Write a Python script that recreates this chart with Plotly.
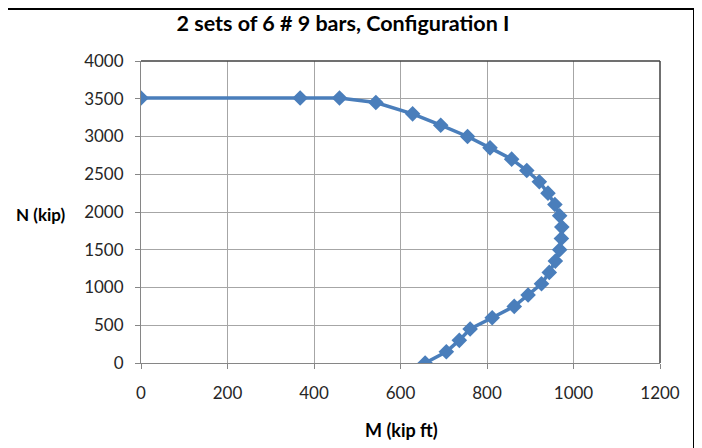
import plotly.graph_objs as go

# interaction diagram points
moment = [0, 368, 459, 543, 628, 693, 755, 807, 857, 892, 921, 941, 957, 968, 973,
          972, 968, 958, 944, 926, 895, 863, 812, 761, 736, 706, 657]
axial = [3510, 3510, 3510, 3450, 3300, 3150, 3000, 2850, 2700, 2550, 2400, 2250, 2100, 1950, 1800,
         1650, 1500, 1350, 1200, 1050, 900, 750, 600, 450, 300, 150, 0]

x_ticks = [0, 200, 400, 600, 800, 1000, 1200]
y_ticks = [0, 500, 1000, 1500, 2000, 2500, 3000, 3500, 4000]

FONT = 'Lato, Open Sans, sans-serif'
BLUE = '#4A7EBB'
GRID = '#A6A6A6'

# page body has an 8px margin, so the figure is drawn 8px in from the window edge
OFF = 8
W, H = 702 - OFF, 448 - OFF
L, T = 141 - OFF, 61 - OFF
R = W - (660 - OFF)
B = H - (363 - OFF)
pw, ph = W - L - R, H - T - B


def px_x(px):
    # screen pixel -> paper coordinate
    return (px - OFF - L) / pw


def px_y(py):
    return (H - B - (py - OFF)) / ph


trace = go.Scatter(
    x=moment,
    y=axial,
    mode='lines+markers',
    line=dict(color=BLUE, width=3.5),
    marker=dict(symbol='diamond', size=12, color=BLUE),
    showlegend=False,
)

axis_common = dict(
    showgrid=True,
    gridcolor=GRID,
    gridwidth=1,
    showline=True,
    linecolor='#868686',
    linewidth=1,
    ticks='outside',
    ticklen=5,
    tickcolor='#868686',
    zeroline=False,
    tickfont=dict(family=FONT, size=17, color='#262626'),
)

layout = go.Layout(
    width=W,
    height=H,
    margin=dict(l=L, r=R, t=T, b=B),
    paper_bgcolor='white',
    plot_bgcolor='white',
    title=dict(
        text='<b>2 sets of 6 # 9 bars, Configuration I</b>',
        x=(343 - OFF) / W, xref='container', xanchor='center',
        y=1 - (23 - OFF) / H, yanchor='middle',
        font=dict(family=FONT, size=21.5, color='black'),
    ),
    xaxis=dict(range=[0, 1200], tickvals=x_ticks, ticklabelstandoff=10, **axis_common),
    yaxis=dict(range=[0, 4000], tickvals=y_ticks, ticklabelstandoff=8, **axis_common),
    annotations=[
        dict(text='<b>M (kip ft)</b>', xref='paper', yref='paper', x=px_x(401), y=px_y(430),
             xanchor='center', yanchor='middle', showarrow=False,
             font=dict(family=FONT, size=18, color='black')),
        dict(text='<b>N (kip)</b>', xref='paper', yref='paper', x=px_x(14), y=px_y(214),
             xanchor='left', yanchor='middle', showarrow=False,
             font=dict(family=FONT, size=17, color='black')),
    ],
    shapes=[
        # dark top and right edges of the plot area
        dict(type='line', xref='paper', yref='paper', x0=0, x1=1, y0=1, y1=1,
             line=dict(color='#404040', width=1.5)),
        dict(type='line', xref='paper', yref='paper', x0=1, x1=1, y0=0, y1=1,
             line=dict(color='#404040', width=1.5)),
        # chart frame (top and right only)
        dict(type='line', xref='paper', yref='paper', x0=px_x(OFF), x1=px_x(694),
             y0=px_y(OFF + 1), y1=px_y(OFF + 1), line=dict(color='black', width=2)),
        dict(type='line', xref='paper', yref='paper', x0=px_x(694), x1=px_x(694),
             y0=px_y(OFF + 1), y1=px_y(H + OFF), line=dict(color='black', width=2)),
    ],
)

fig = go.Figure([trace], layout=layout)
fig.write_html('out.html')
